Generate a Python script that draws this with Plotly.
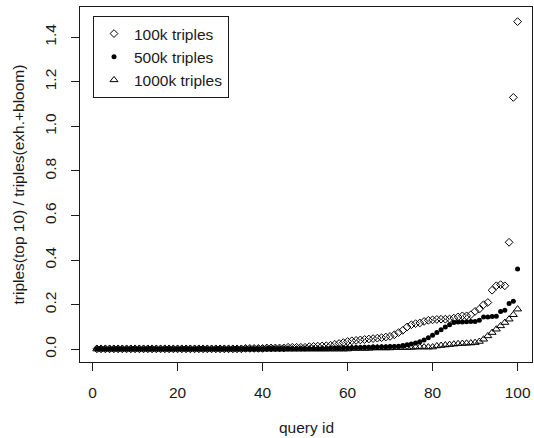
import plotly.graph_objects as go

query_id = list(range(1, 101))

triples_100k = (
    [0.002] * 35
    + [0.004] * 5
    + [0.006] * 5
    + [0.009] * 5
    + [0.012, 0.013, 0.014, 0.015, 0.016]
    + [0.018, 0.022, 0.026, 0.030, 0.035]
    + [0.038, 0.040, 0.042, 0.044, 0.046]
    + [0.048, 0.050, 0.052, 0.055, 0.058]
    + [0.065, 0.075, 0.085, 0.100, 0.110]
    + [0.115, 0.118, 0.125, 0.130, 0.132]
    + [0.134, 0.135, 0.135, 0.136, 0.140]
    + [0.145, 0.150, 0.150, 0.155, 0.170]
    + [0.180, 0.200, 0.210, 0.265, 0.285]
    + [0.290, 0.285, 0.480, 1.130, 1.470]
)

triples_500k = (
    [0.001] * 40
    + [0.002] * 10
    + [0.003] * 5
    + [0.005, 0.005, 0.006, 0.006, 0.007]
    + [0.007, 0.008, 0.008, 0.009, 0.009]
    + [0.010, 0.010, 0.011, 0.011, 0.012]
    + [0.013, 0.014, 0.017, 0.020, 0.024, 0.028, 0.034]
    + [0.042, 0.052, 0.063, 0.075, 0.088, 0.100, 0.110]
    + [0.120, 0.122, 0.123, 0.124, 0.125, 0.125, 0.130]
    + [0.145, 0.145, 0.147, 0.148]
    + [0.170, 0.175, 0.205, 0.215, 0.360]
)

triples_1000k = (
    [0.001] * 60
    + [0.004] * 5
    + [0.006] * 5
    + [0.008] * 5
    + [0.010] * 5
    + [0.015, 0.017, 0.019, 0.021, 0.023]
    + [0.025, 0.026, 0.027, 0.028, 0.030]
    + [0.035, 0.045, 0.060, 0.075, 0.090]
    + [0.105, 0.120, 0.135, 0.155, 0.180]
)

x_ticks = [0, 20, 40, 60, 80, 100]
y_ticks = [0.0, 0.2, 0.4, 0.6, 0.8, 1.0, 1.2, 1.4]
y_tick_labels = ["0.0", "0.2", "0.4", "0.6", "0.8", "1.0", "1.2", "1.4"]

FONT = "Liberation Sans, Arial, Helvetica, sans-serif"
FS = 15.5
INK = "#1a1a1a"

fig = go.Figure()
fig.add_trace(go.Scatter(
    x=query_id, y=triples_100k, mode="markers", name="100k triples",
    marker=dict(symbol="diamond-open", size=6, color="black", line=dict(width=1, color="black")),
))
fig.add_trace(go.Scatter(
    x=query_id, y=triples_500k, mode="markers", name="500k triples",
    marker=dict(symbol="circle", size=5, color="black", line=dict(width=0)),
))
fig.add_trace(go.Scatter(
    x=query_id, y=triples_1000k, mode="markers", name="1000k triples",
    marker=dict(symbol="triangle-up-open", size=7, color="black", line=dict(width=1, color="black")),
))

W, H = 534, 438
L, R, T, B = 80, 2, 7, 76
pw = W - L - R
ph = H - T - B

fig.update_layout(
    width=W, height=H,
    margin=dict(l=L, r=R, t=T, b=B, pad=0),
    paper_bgcolor="white", plot_bgcolor="white",
    font=dict(family=FONT, size=FS, color=INK),
    showlegend=True,
    legend=dict(
        x=(93 - L) / pw, y=(H - B - 16) / ph, xanchor="left", yanchor="top",
        bgcolor="white", bordercolor=INK, borderwidth=1,
        font=dict(family=FONT, size=FS, color=INK),
        itemwidth=30, tracegroupgap=0,
    ),
    xaxis=dict(
        range=[-2.96, -2.96 + pw / 4.25],
        tickmode="array", tickvals=x_ticks, ticktext=[str(v) for v in x_ticks],
        ticks="outside", ticklen=8, tickcolor=INK, tickwidth=1,
        ticklabelstandoff=8,
        showline=True, linecolor=INK, linewidth=1, mirror=True,
        showgrid=False, zeroline=False,
        tickfont=dict(family=FONT, size=FS, color=INK),
    ),
    yaxis=dict(
        range=[-0.057, -0.057 + ph / 222.9],
        tickmode="array", tickvals=y_ticks, ticktext=y_tick_labels,
        ticks="outside", ticklen=8, tickcolor=INK, tickwidth=1,
        tickangle=-90, ticklabelstandoff=9,
        showline=True, linecolor=INK, linewidth=1, mirror=True,
        showgrid=False, zeroline=False,
        tickfont=dict(family=FONT, size=FS, color=INK),
    ),
    annotations=[
        dict(text="query id", xref="paper", yref="paper", x=0.5, y=0,
             xanchor="center", yanchor="middle", yshift=-(427 - (H - B)),
             showarrow=False, font=dict(family=FONT, size=FS, color=INK)),
        dict(text="triples(top 10) / triples(exh.+bloom)", xref="paper", yref="paper",
             x=0, y=0.5, xanchor="center", yanchor="middle", xshift=-(L - 18),
             textangle=-90, showarrow=False, font=dict(family=FONT, size=FS, color=INK)),
    ],
)

fig.write_html(
    "out.html",
    config={"displayModeBar": False},
    post_script="document.body.style.margin='0';document.body.style.padding='0';",
)
